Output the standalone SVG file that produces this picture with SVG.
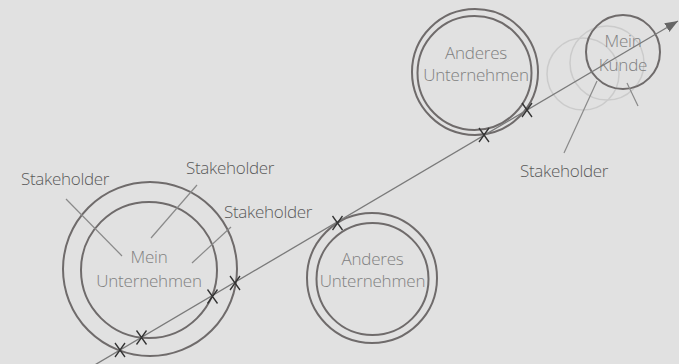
<svg xmlns="http://www.w3.org/2000/svg" width="679" height="364" viewBox="0 0 679 364">
  <style>
    .ring { fill: none; stroke: #6f6b6b; stroke-width: 2; }
    .ghost { fill: none; stroke: #cbcbcb; stroke-width: 1.5; }
    .label { font-family: "Open Sans", "Liberation Sans", sans-serif; font-weight: 300; font-size: 17px; letter-spacing: -0.2px; fill: #808080; text-anchor: middle; }
    .stake { font-family: "Open Sans", "Liberation Sans", sans-serif; font-weight: 300; font-size: 17px; letter-spacing: -0.3px; fill: #5a5a5a; }
    .pointer { stroke: #8a8a8a; stroke-width: 1.2; fill: none; }
    .path-line { stroke: #7a7a7a; stroke-width: 1.3; fill: none; }
    .cross { stroke: #333; stroke-width: 1.3; fill: none; }
  </style>
  <defs>
    <marker id="arrow" markerUnits="userSpaceOnUse" markerWidth="14" markerHeight="11" refX="13" refY="5" orient="auto">
      <path d="M0,0 L13,5 L0,10 z" fill="#666"/>
    </marker>
    <path id="x" class="cross" d="M-5,-7 L5,7 M5,-7 L-5,7"/>
  </defs>

  <rect width="679" height="364" fill="#e1e1e1"/>

  <!-- Mein Unternehmen -->
  <g id="mein-unternehmen">
    <circle class="ring" cx="150" cy="269" r="87"/>
    <circle class="ring" cx="149" cy="270" r="68"/>
    <text class="label" x="149" y="263">Mein</text>
    <text class="label" x="149" y="287">Unternehmen</text>
  </g>

  <!-- Anderes Unternehmen (unten) -->
  <g id="anderes-unternehmen-1">
    <circle class="ring" cx="372" cy="278" r="65"/>
    <circle class="ring" cx="372.5" cy="279" r="56"/>
    <text class="label" x="372.5" y="265">Anderes</text>
    <text class="label" x="372.5" y="287">Unternehmen</text>
  </g>

  <!-- Anderes Unternehmen (oben) -->
  <g id="anderes-unternehmen-2">
    <circle class="ring" cx="475" cy="72" r="63"/>
    <circle class="ring" cx="474.5" cy="73" r="57"/>
    <text class="label" x="476" y="59">Anderes</text>
    <text class="label" x="476" y="81">Unternehmen</text>
  </g>

  <!-- Mein Kunde with its faded earlier positions -->
  <g id="mein-kunde">
    <circle class="ghost" cx="583" cy="74" r="36"/>
    <circle class="ghost" cx="607" cy="63" r="37"/>
    <circle class="ring" cx="623" cy="52" r="37"/>
    <text class="label" x="623" y="47">Mein</text>
    <text class="label" x="623" y="71">Kunde</text>
  </g>

  <!-- Stakeholder labels -->
  <g id="stakeholder-1"><text class="stake" x="21" y="185">Stakeholder</text></g>
  <g id="stakeholder-2"><text class="stake" x="186" y="174">Stakeholder</text></g>
  <g id="stakeholder-3"><text class="stake" x="224" y="218">Stakeholder</text></g>
  <g id="stakeholder-4"><text class="stake" x="520" y="177">Stakeholder</text></g>

  <!-- connectors -->
  <g id="connectors">
    <line class="pointer" x1="66" y1="199" x2="122" y2="256"/>
    <line class="pointer" x1="197" y1="185" x2="151" y2="238"/>
    <line class="pointer" x1="231" y1="227" x2="192" y2="263"/>
    <line class="pointer" x1="597" y1="81" x2="564" y2="153"/>
    <line class="pointer" x1="627" y1="83" x2="638" y2="106"/>

    <line class="path-line" x1="95" y1="364.8" x2="678" y2="21" marker-end="url(#arrow)"/>

    <use href="#x" x="120" y="350"/>
    <use href="#x" x="141.5" y="337.5"/>
    <use href="#x" x="212.5" y="296.5"/>
    <use href="#x" x="235" y="283"/>
    <use href="#x" x="337.5" y="223"/>
    <use href="#x" x="484" y="135"/>
    <use href="#x" x="527" y="110"/>
  </g>
</svg>
